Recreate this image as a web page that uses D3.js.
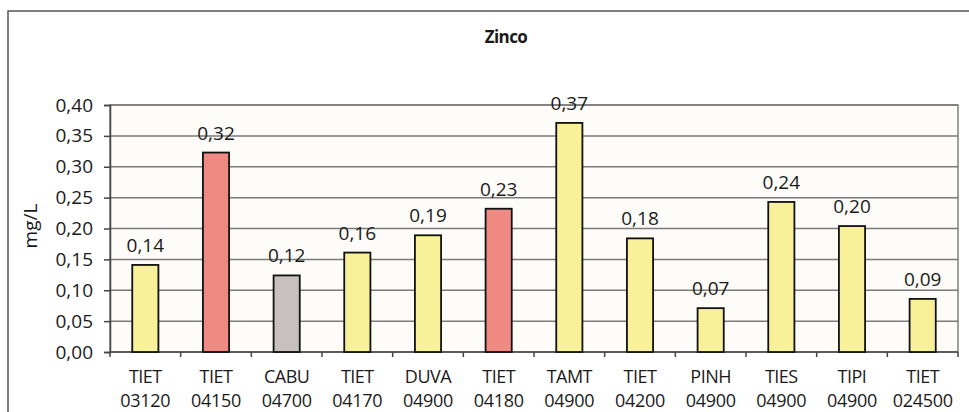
<!DOCTYPE html>
<html><head><meta charset="utf-8">
<script src="https://cdn.jsdelivr.net/npm/d3@7/dist/d3.min.js"></script>
<style>body{margin:0;background:#fff}svg{display:block}text{font-family:"Open Sans",sans-serif;fill:#1a1a1a}</style>
</head><body><svg id="c" width="969" height="412"></svg>
<script>
const line1 = ["TIET","TIET","CABU","TIET","DUVA","TIET","TAMT","TIET","PINH","TIES","TIPI","TIET"];
const line2 = ["03120","04150","04700","04170","04900","04180","04900","04200","04900","04900","04900","024500"];
const categories = line1.map((d,i)=>d+" "+line2[i]);
const values = [0.141,0.323,0.124,0.161,0.189,0.232,0.371,0.184,0.071,0.243,0.204,0.086];
const groups = ["ok","high","ref","ok","ok","high","ok","ok","ok","ok","ok","ok"];
const yTicks = [0,0.05,0.10,0.15,0.20,0.25,0.30,0.35,0.40];
const title = "Zinco";
const yTitle = "mg/L";

const svg = d3.select("#c");
const m = {l:110, r:958, t:105, b:352};
const fmt = v => d3.format(".2f")(v).replace(".", ",");
const color = d3.scaleOrdinal().domain(["ok","high","ref"]).range(["#f9f09a","#ee8a82","#c8c0c0"]);

svg.append("rect").attr("x",8).attr("y",11).attr("width",1000).attr("height",500)
  .attr("fill","#fff").attr("stroke","#555").attr("stroke-width",1.5);

const x = d3.scaleBand().domain(categories).range([m.l,m.r]).paddingInner(0.63).paddingOuter(0.315);
const y = d3.scaleLinear().domain([0,0.40]).range([m.b,m.t]);

svg.append("rect").attr("x",m.l).attr("y",m.t).attr("width",m.r-m.l).attr("height",m.b-m.t)
  .attr("fill","#fdfcf8").attr("stroke","#808080").attr("stroke-width",1.5);

svg.append("g").selectAll("line").data(yTicks.slice(1)).join("line")
  .attr("x1",m.l).attr("x2",m.r).attr("y1",d=>y(d)).attr("y2",d=>y(d))
  .attr("stroke","#7a7a7a").attr("stroke-width",1.5);

const ya = svg.append("g").attr("transform",`translate(${m.l},0)`)
  .call(d3.axisLeft(y).tickValues(yTicks).tickFormat(fmt).tickSize(6).tickPadding(11));
ya.select(".domain").attr("stroke","#444").attr("stroke-width",1.5);
ya.selectAll(".tick line").attr("stroke","#444").attr("stroke-width",1.5);
ya.selectAll("text").style("font-size","19px").attr("fill","#1a1a1a");

svg.append("line").attr("x1",m.l).attr("x2",m.r).attr("y1",m.b).attr("y2",m.b).attr("stroke","#444").attr("stroke-width",1.5);
const bounds = d3.range(categories.length+1).map(i=> i===categories.length ? m.r : x(categories[i]) - x.step()*x.paddingInner()/2);
svg.append("g").selectAll("line").data(bounds).join("line")
  .attr("x1",d=>d).attr("x2",d=>d).attr("y1",m.b).attr("y2",m.b+5).attr("stroke","#444").attr("stroke-width",1.5);

svg.append("g").selectAll("text").data(categories).join("text")
  .attr("text-anchor","middle").style("font-size","18px").attr("letter-spacing","-0.5")
  .attr("x",d=>x(d)+x.bandwidth()/2).attr("y",383).text((d,i)=>line1[i]);
svg.append("g").selectAll("text").data(categories).join("text")
  .attr("text-anchor","middle").style("font-size","18px").attr("letter-spacing","-0.3")
  .attr("x",d=>x(d)+x.bandwidth()/2).attr("y",407).text((d,i)=>line2[i]);

svg.append("g").selectAll("rect").data(values).join("rect")
  .attr("x",(d,i)=>x(categories[i])).attr("width",x.bandwidth())
  .attr("y",d=>y(d)).attr("height",d=>y(0)-y(d))
  .attr("fill",(d,i)=>color(groups[i])).attr("stroke","#111").attr("stroke-width",1.8);

svg.append("g").selectAll("text").data(values).join("text")
  .attr("x",(d,i)=>x(categories[i])+x.bandwidth()/2).attr("y",d=>y(d)-13)
  .attr("text-anchor","middle").style("font-size","19px").text(fmt);

svg.append("text").attr("x",506).attr("y",43).attr("text-anchor","middle")
  .style("font-size","17px").style("font-weight","bold").attr("letter-spacing","-0.6").text(title);

svg.append("text").attr("transform","translate(37,226) rotate(-90)").attr("text-anchor","middle")
  .style("font-size","19px").text(yTitle);
</script></body></html>
